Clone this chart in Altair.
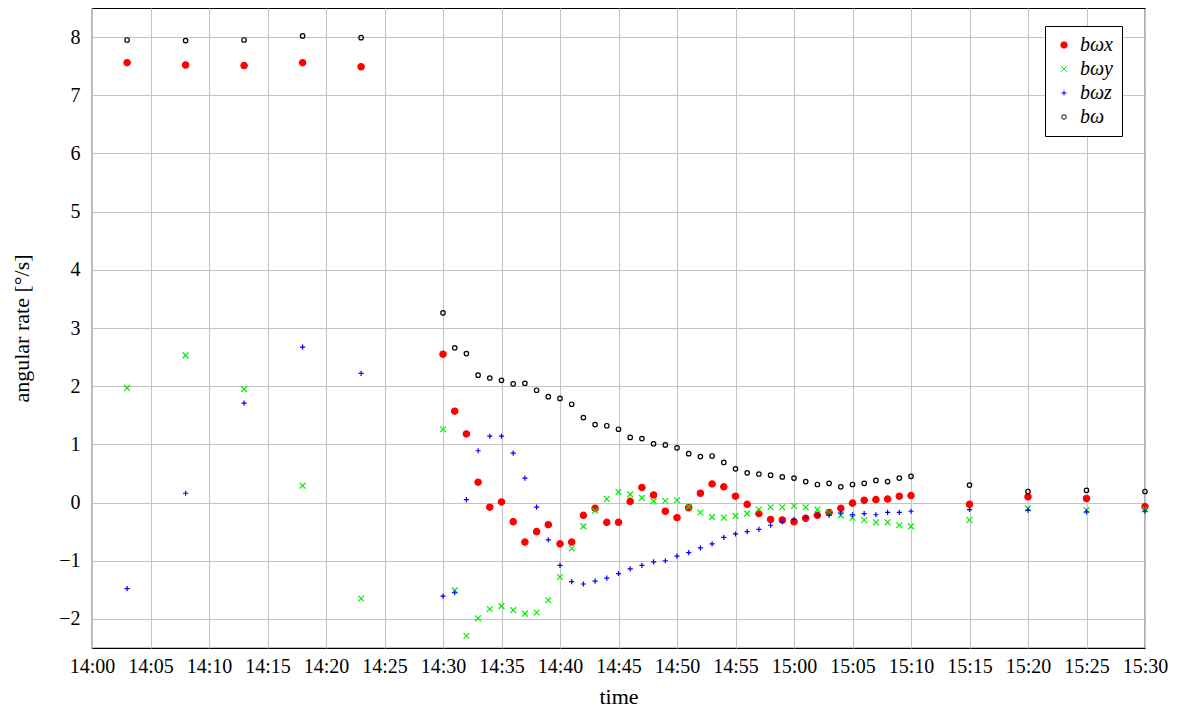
import altair as alt
import pandas as pd

times = ["14:03", "14:08", "14:13", "14:18", "14:23",
         "14:30", "14:31", "14:32", "14:33", "14:34", "14:35", "14:36", "14:37", "14:38", "14:39",
         "14:40", "14:41", "14:42", "14:43", "14:44", "14:45", "14:46", "14:47", "14:48", "14:49",
         "14:50", "14:51", "14:52", "14:53", "14:54", "14:55", "14:56", "14:57", "14:58", "14:59",
         "15:00", "15:01", "15:02", "15:03", "15:04", "15:05", "15:06", "15:07", "15:08", "15:09",
         "15:10", "15:15", "15:20", "15:25", "15:30"]

wx = [7.56, 7.52, 7.51, 7.56, 7.49,
      2.55, 1.57, 1.18, 0.35, -0.08, 0.01, -0.33, -0.68, -0.50, -0.38,
      -0.71, -0.68, -0.22, -0.10, -0.34, -0.34, 0.02, 0.26, 0.13, -0.15,
      -0.26, -0.09, 0.16, 0.32, 0.27, 0.11, -0.03, -0.19, -0.29, -0.30,
      -0.33, -0.27, -0.22, -0.17, -0.10, -0.01, 0.04, 0.05, 0.06, 0.11,
      0.12, -0.03, 0.10, 0.07, -0.07]

wy = [1.97, 2.53, 1.95, 0.29, -1.65,
      1.26, -1.51, -2.29, -1.99, -1.83, -1.78, -1.85, -1.91, -1.89, -1.68,
      -1.28, -0.79, -0.41, -0.14, 0.06, 0.18, 0.14, 0.08, 0.02, 0.03,
      0.04, -0.07, -0.17, -0.25, -0.26, -0.23, -0.19, -0.12, -0.08, -0.08,
      -0.06, -0.08, -0.12, -0.18, -0.22, -0.26, -0.30, -0.34, -0.34, -0.39,
      -0.41, -0.30, -0.10, -0.13, -0.12]

wz = [-1.48, 0.16, 1.71, 2.67, 2.22,
      -1.61, -1.55, 0.05, 0.89, 1.14, 1.14, 0.85, 0.42, -0.08, -0.64,
      -1.08, -1.36, -1.40, -1.35, -1.30, -1.22, -1.14, -1.08, -1.02, -1.00,
      -0.92, -0.86, -0.78, -0.71, -0.60, -0.54, -0.50, -0.46, -0.39, -0.33,
      -0.29, -0.26, -0.22, -0.22, -0.18, -0.21, -0.19, -0.21, -0.17, -0.17,
      -0.15, -0.12, -0.13, -0.16, -0.15]

w = [7.95, 7.94, 7.95, 8.02, 7.99,
     3.26, 2.66, 2.56, 2.19, 2.14, 2.10, 2.04, 2.05, 1.93, 1.82,
     1.79, 1.69, 1.46, 1.34, 1.32, 1.26, 1.12, 1.10, 1.01, 0.99,
     0.94, 0.84, 0.79, 0.80, 0.69, 0.58, 0.51, 0.49, 0.47, 0.44,
     0.42, 0.36, 0.31, 0.33, 0.27, 0.31, 0.33, 0.38, 0.36, 0.42,
     0.45, 0.30, 0.19, 0.21, 0.19]

series_names = ["bωx", "bωy", "bωz", "bω"]
series_values = [wx, wy, wz, w]
x_tick_labels = ["14:00", "14:05", "14:10", "14:15", "14:20", "14:25", "14:30", "14:35", "14:40",
                 "14:45", "14:50", "14:55", "15:00", "15:05", "15:10", "15:15", "15:20", "15:25", "15:30"]


def to_min(s):
    h, m = s.split(":")
    return (int(h) - 14) * 60 + int(m)


rows = []
for name, vals in zip(series_names, series_values):
    for t, v in zip(times, vals):
        rows.append({"minute": to_min(t), "time": t, "series": name, "value": v})
df = pd.DataFrame(rows)

tick_vals = [to_min(s) for s in x_tick_labels]
label_expr = ("floor((840 + datum.value) / 60) + ':' + "
              "(((840 + datum.value) % 60) < 10 ? '0' : '') + ((840 + datum.value) % 60)")

shape_x = "M-1,-1L1,1M-1,1L1,-1"
shape_plus = "M-1,0L1,0M0,-1L0,1"

legend = alt.Legend(
    title=None, orient="none", legendX=953, legendY=18,
    fillColor="white", strokeColor="black", padding=9,
    labelFont="Liberation Serif", labelFontSize=20, labelFontStyle="italic",
    labelColor="black", rowPadding=4, symbolStrokeWidth=1, labelOffset=6,
)

chart = alt.Chart(df).mark_point(strokeWidth=1.2, opacity=1).encode(
    x=alt.X("minute:Q", title="time",
            scale=alt.Scale(domain=[0, 90], nice=False, zero=False),
            axis=alt.Axis(values=tick_vals, labelExpr=label_expr, labelOverlap=False,
                          labelFlush=False, labelPadding=8, titlePadding=10)),
    y=alt.Y("value:Q", title="angular rate [°/s]",
            scale=alt.Scale(domain=[-2.5, 8.5], nice=False, zero=False),
            axis=alt.Axis(values=list(range(-2, 9)), labelFlush=False,
                          labelPadding=12, titlePadding=25)),
    stroke=alt.Stroke("series:N", scale=alt.Scale(domain=series_names,
                      range=["#ff0000", "#00ee00", "#0000ff", "#000000"]), legend=legend),
    fill=alt.Fill("series:N", scale=alt.Scale(domain=series_names,
                  range=["#ff0000", "transparent", "transparent", "transparent"]), legend=legend),
    shape=alt.Shape("series:N", scale=alt.Scale(domain=series_names,
                    range=["circle", shape_x, shape_plus, "circle"]), legend=legend),
    size=alt.Size("series:N", scale=alt.Scale(domain=series_names,
                  range=[40, 20, 36, 52]), legend=legend),
).properties(
    width=1053, height=640,
    autosize=alt.AutoSizeParams(type="none"),
    padding={"left": 84, "top": 0, "right": 24, "bottom": 64},
).configure(
    font="Liberation Serif"
).configure_view(
    stroke="black", strokeWidth=1.2
).configure_axis(
    labelFont="Liberation Serif", labelFontSize=20, labelColor="black",
    titleFont="Liberation Serif", titleFontSize=22, titleFontWeight="normal", titleColor="black",
    grid=True, gridColor="#c4c4c4", gridWidth=1.1,
    domain=False, ticks=False,
)

chart.save("out.html", embed_options={"renderer": "svg", "actions": False})
